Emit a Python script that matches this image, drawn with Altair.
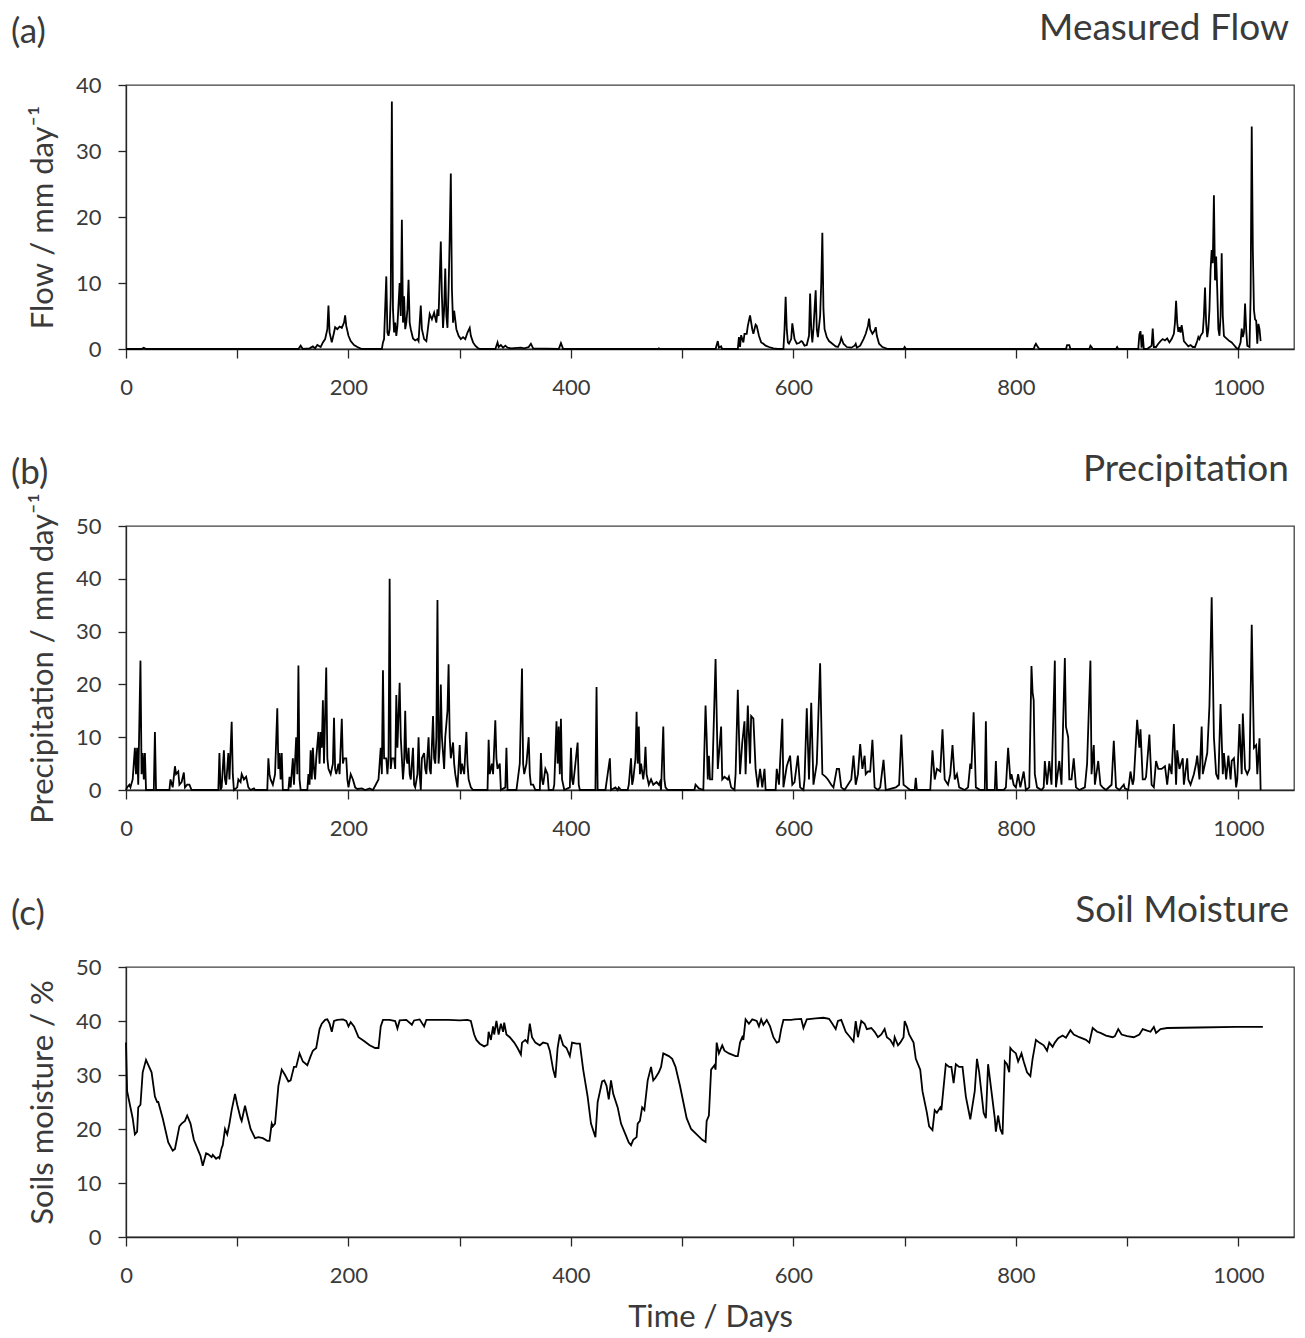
import altair as alt
import pandas as pd

# ---------------- data (day, value) ----------------
flow_points = [
    (0, 0), (14, 0), (16, 0.2), (18, 0), (150, 0), (155, 0), (157, 0.5), (159, 0), (165, 0.1), (168, 0.4),
    (170, 0.1), (172, 0.6), (175, 0.3), (177, 1.0), (179, 1.5), (181, 3), (182, 6.6), (183, 2.5), (185, 1),
    (187, 2.5), (188, 3.3), (190, 3.0), (192, 3.4), (194, 3.2), (196, 4), (197, 5.1), (198, 3.5), (200, 2),
    (202, 1.2), (205, 0.6), (208, 0.3), (212, 0), (230, 0), (231, 1), (232, 1.5), (234, 11), (235, 2.5),
    (236, 2), (237, 3), (238, 8), (239, 37.5), (240, 6), (241, 2.5), (242, 4), (243, 2), (244, 3.5), (246, 10),
    (247, 5), (248, 19.6), (249, 4), (250, 8), (251, 3), (252, 4), (253, 6), (254, 10.5), (255, 4), (256, 3),
    (258, 1.6), (260, 1.3), (262, 1.5), (263, 1.2), (265, 6.6), (266, 3), (268, 1.5), (270, 1.2), (271, 2.5),
    (273, 5.3), (275, 4.5), (277, 5.5), (279, 4), (280, 6), (281, 5), (283, 16.3), (284, 8), (285, 3.2),
    (286, 6), (287, 12.2), (288, 5), (289, 3.2), (290, 9), (291, 17), (292, 26.6), (293, 9), (294, 4),
    (295, 5.8), (297, 3), (299, 2), (301, 1.5), (303, 1.8), (305, 1.5), (307, 2.5), (309, 3.2), (310, 2),
    (312, 1), (314, 0.5), (316, 0.2), (318, 0), (332, 0), (334, 1.0), (335, 0.3), (337, 0.6), (339, 0.2),
    (341, 0.5), (343, 0.2), (346, 0.1), (355, 0.2), (358, 0.1), (362, 0.3), (364, 0.8), (366, 0.1), (389, 0),
    (391, 0.9), (393, 0), (478, 0), (479, 0.1), (480, 0), (530, 0), (532, 1.2), (533, 0.2), (535, 0.4),
    (536, 0), (550, 0), (551, 1.8), (552, 0.3), (553, 2.1), (555, 1), (556, 2.3), (558, 2.3), (559, 3.5),
    (561, 5.1), (563, 3), (564, 2.3), (566, 3.7), (567, 3.5), (569, 2), (571, 1), (573, 0.8), (575, 0.5),
    (578, 0.3), (582, 0.1), (586, 0), (591, 0), (592, 3), (593, 7.9), (594, 3), (595, 1), (596, 0.8),
    (598, 1.5), (599, 3.9), (601, 1.5), (603, 0.8), (605, 0.9), (607, 1.2), (608, 1.1), (610, 0.5),
    (612, 0.6), (614, 2), (615, 8.4), (616, 3), (617, 1), (618, 3), (619, 6), (620, 8.9), (621, 3),
    (622, 1.8), (624, 5), (625, 10), (626, 17.6), (627, 6), (628, 3), (630, 1.8), (632, 1.2), (635, 0.8),
    (638, 0.4), (640, 0.3), (642, 1.0), (643, 1.7), (645, 0.8), (648, 0.3), (652, 0.2), (655, 0.5),
    (656, 0.8), (657, 0.2), (660, 0.5), (663, 1.5), (665, 2.3), (667, 3.5), (668, 4.6), (669, 3), (671, 2.3),
    (673, 2.8), (674, 3.3), (675, 2), (677, 0.8), (680, 0.3), (685, 0), (699, 0), (700, 0.3), (701, 0),
    (816, 0), (817, 0.5), (818, 0.8), (819, 0.5), (821, 0), (845, 0), (846, 0.6), (848, 0.6), (849, 0),
    (866, 0), (867, 0.5), (868, 0.3), (869, 0), (890, 0), (891, 0.3), (892, 0), (910, 0), (911, 2.2),
    (912, 2.7), (913, 0.2), (914, 2.2), (915, 0), (918, 0), (922, 0.5), (923, 3.1), (924, 0.3), (926, 0.3),
    (928, 0.8), (930, 1.2), (932, 1.5), (934, 1.3), (936, 1.6), (938, 1.0), (940, 1.5), (942, 2.3), (943, 4),
    (944, 7.3), (945, 4), (946, 2.6), (947, 3.3), (948, 2.5), (949, 3.6), (950, 2.5), (951, 1.2), (953, 0.8),
    (955, 0.4), (957, 0.6), (959, 0.3), (961, 0.3), (963, 1.2), (964, 1.8), (965, 1.5), (966, 2), (968, 2.5),
    (969, 5), (970, 9.3), (971, 4), (972, 1.8), (973, 3), (974, 6), (975, 12), (976, 15), (977, 13),
    (978, 23.3), (979, 10.4), (980, 14), (981, 9), (982, 3), (983, 2), (984, 5), (985, 14.5), (986, 5),
    (987, 2), (988, 1.8), (990, 1.5), (992, 1.2), (994, 1), (996, 0.6), (998, 0.2), (1000, 0), (1002, 1.0),
    (1003, 3.1), (1004, 1.8), (1005, 2.5), (1006, 6.9), (1007, 3), (1008, 0.5), (1010, 0.3), (1011, 8),
    (1012, 33.7), (1013, 15), (1014, 5.9), (1015, 4.5), (1016, 4.3), (1017, 0.8), (1018, 3.8), (1019, 3),
    (1020, 1.2),
]

precip_points = [
    (0, 0), (1, 0.5), (3, 1), (4, 0.5), (6, 2), (8, 8), (9, 3), (10, 8), (11, 1), (13, 24.5), (14, 3),
    (15, 7), (16, 2), (17, 7), (18, 0), (25, 0), (26, 11), (27, 0), (39, 0), (40, 2), (42, 0.5), (44, 4.5),
    (45, 3), (47, 3.5), (48, 1), (50, 1.5), (52, 3.3), (53, 0.5), (55, 1), (57, 1), (59, 0),
    (83, 0), (84, 7), (85, 0), (86, 0.5), (88, 7.5), (89, 2), (90, 1), (92, 7), (93, 2), (95, 12.9), (96, 3),
    (97, 0), (100, 0.5), (101, 2), (103, 1.5), (104, 3), (106, 2), (108, 2.5), (110, 0.5), (112, 0),
    (115, 0.3), (116, 0), (127, 0), (128, 6), (129, 3), (130, 2), (132, 1), (134, 3), (136, 15.5), (137, 4),
    (138, 7), (139, 2), (140, 7), (141, 0), (146, 0), (147, 2.5), (148, 0.5), (150, 6), (151, 1), (153, 10),
    (154, 3), (155, 23.6), (156, 2), (157, 0), (163, 0), (164, 3), (165, 1), (166, 7.5), (167, 2), (168, 8),
    (169, 4), (170, 2), (171, 6), (173, 11), (174, 5), (175, 11), (176, 8), (177, 17), (178, 5), (180, 23.2),
    (181, 6), (182, 4), (184, 3), (186, 5), (187, 13.7), (188, 4), (189, 3), (191, 5), (192, 3), (194, 13.5),
    (195, 5), (196, 6), (198, 6), (199, 2), (200, 0.5), (202, 3), (204, 2), (206, 0.5), (208, 0.2), (212, 0.3),
    (215, 0), (219, 0.3), (222, 0), (227, 2), (229, 8), (230, 3), (231, 22.7), (232, 6), (234, 6), (235, 3),
    (236, 6), (237, 40), (238, 4), (239, 6), (241, 6), (242, 4), (243, 18), (244, 8), (246, 20.3), (247, 10),
    (249, 2), (250, 5), (251, 15), (252, 6), (253, 5), (254, 8), (255, 3), (256, 2), (258, 8), (259, 1),
    (260, 0.5), (262, 3), (263, 10), (264, 3), (265, 0), (266, 6), (268, 7), (269, 4), (270, 3), (272, 10),
    (273, 4), (274, 3), (276, 14), (277, 6), (278, 5), (279, 10), (280, 36), (281, 5), (282, 8), (283, 20),
    (284, 10), (285, 7), (286, 4), (287, 10), (289, 15), (290, 23.8), (291, 10), (292, 6), (294, 9), (295, 5),
    (296, 3), (298, 0.5), (300, 8.5), (301, 3), (302, 5), (304, 3), (306, 11), (307, 5), (308, 2), (310, 0.5),
    (312, 0), (325, 0), (326, 9.5), (327, 3), (329, 5), (330, 3), (332, 13.2), (333, 6), (334, 4), (336, 5),
    (337, 0), (341, 0.5), (342, 8), (343, 0), (351, 0), (354, 5), (356, 23), (357, 5), (358, 3), (360, 5),
    (362, 10), (363, 3), (364, 1), (366, 1), (368, 0), (372, 0), (373, 7), (374, 2), (375, 1), (377, 4),
    (379, 3), (380, 0), (384, 0), (385, 1), (387, 13), (388, 5), (389, 12), (390, 3), (391, 13.5), (392, 2),
    (394, 0), (399, 0.5), (400, 8), (401, 2), (402, 1), (404, 5), (406, 9), (407, 1), (408, 0), (422, 0),
    (423, 19.5), (424, 0), (431, 0), (433, 3), (435, 6), (436, 0), (440, 0.5), (442, 0), (443, 0.5), (445, 0),
    (451, 0), (452, 1), (454, 6), (455, 1), (456, 2), (458, 6), (459, 14.8), (460, 5), (461, 12), (462, 3),
    (463, 5), (465, 2), (466, 4), (467, 8.2), (468, 3), (470, 1), (472, 2), (474, 1), (477, 1.5), (479, 1),
    (480, 1.5), (481, 0), (483, 12), (484, 2), (485, 0.5), (487, 0), (511, 0), (512, 1), (515, 0.3), (519, 0),
    (521, 16), (522, 10), (523, 2), (524, 6.5), (525, 2), (527, 2), (530, 24.8), (532, 4), (535, 12), (536, 2),
    (538, 2.5), (541, 2), (542, 2.5), (544, 0.5), (547, 0), (548, 3), (550, 19), (552, 3), (554, 9), (556, 13),
    (557, 3), (559, 16), (561, 5), (562, 14), (564, 13.5), (566, 4), (568, 0.5), (570, 4), (572, 0.5),
    (574, 4), (575, 0), (584, 0), (585, 4), (587, 1), (590, 13.5), (591, 0.5), (594, 4.5), (597, 6.5),
    (599, 1), (601, 1.5), (604, 6.5), (606, 0.5), (609, 0), (610, 2), (612, 15.5), (614, 2), (616, 16.5),
    (618, 1), (621, 5), (624, 24), (626, 3), (629, 2.5), (631, 2), (634, 1), (636, 0.5), (639, 4), (641, 4),
    (643, 0.5), (646, 0), (652, 2), (654, 6.5), (656, 1), (658, 3), (660, 8.7), (662, 4), (664, 6.5), (665, 3),
    (667, 3.5), (669, 3.5), (671, 9.5), (673, 0.5), (676, 0), (678, 0.5), (681, 5.7), (683, 0), (692, 0.5),
    (695, 1), (697, 10.5), (699, 1), (702, 0.5), (705, 0), (709, 0), (710, 2.3), (711, 0), (723, 0),
    (725, 7.5), (727, 2), (729, 4), (732, 3.5), (734, 11.5), (736, 2), (739, 1), (741, 3), (743, 8.5),
    (745, 2), (747, 3), (749, 0.5), (754, 0), (757, 0.5), (759, 5), (760, 4), (762, 14.7), (764, 0.5),
    (768, 0), (772, 0), (773, 13), (774, 0), (781, 0), (782, 5.5), (783, 0), (789, 0), (791, 0.5), (793, 8),
    (795, 2), (796, 3), (798, 1), (800, 0.5), (802, 3), (804, 0.5), (807, 3.5), (809, 0), (812, 0.5),
    (814, 23.5), (815, 18.5), (816, 17), (817, 3), (819, 0.5), (823, 0), (825, 0.5), (826, 5.5), (828, 1),
    (830, 5.5), (832, 1), (835, 24.5), (836, 0.5), (839, 5.5), (841, 1), (844, 25), (845, 12), (847, 10),
    (848, 2), (850, 2), (852, 6), (854, 0.5), (857, 0), (862, 0.5), (864, 5), (867, 24.5), (868, 3),
    (870, 8.5), (871, 1), (874, 5.5), (876, 1), (878, 0.5), (881, 0), (886, 1), (888, 9.3), (890, 0.5),
    (893, 0), (897, 1), (898, 0.3), (901, 0), (903, 3.5), (905, 1), (906, 2), (909, 13.3), (911, 8),
    (912, 11.5), (914, 2), (916, 2), (917, 2.5), (920, 10.5), (922, 1), (924, 0.5), (926, 5.5), (928, 4),
    (930, 4), (931, 4), (934, 4.5), (936, 1), (938, 5), (940, 3), (942, 12.5), (944, 1), (945, 7.5), (947, 4),
    (950, 6), (951, 1), (954, 6), (955, 2), (957, 1), (960, 3), (962, 5), (963, 6.5), (965, 2), (967, 12),
    (968, 3), (970, 5), (972, 7), (974, 16), (976, 36.5), (978, 10), (980, 3), (982, 2), (984, 16.3),
    (986, 3), (987, 7), (989, 2), (991, 6.5), (993, 2), (994, 5.5), (996, 6), (998, 0.5), (999, 2),
    (1001, 12.5), (1003, 3), (1004, 14.5), (1006, 4), (1008, 3), (1010, 4), (1012, 31.3), (1014, 8),
    (1016, 8.5), (1017, 3), (1019, 9.8), (1020, 0),
]

soil_points = [
    (0, 36), (1, 27), (3, 25), (6, 22), (8, 19), (10, 19.5), (11, 24), (13, 24.5), (15, 30.5), (18, 32.8),
    (23, 30.5), (26, 26), (28, 25), (29, 25), (33, 22), (38, 17.5), (42, 16), (44, 16.3), (48, 20.5),
    (50, 21), (53, 21.5), (55, 22.5), (58, 21), (61, 18), (65, 16), (67, 15), (69, 13.2), (72, 15.5),
    (74, 15.3), (77, 14.8), (78, 15.2), (81, 14.5), (83, 14.8), (84, 14.6), (86, 16.5), (87, 17), (89, 20),
    (91, 19), (93, 21), (95, 23.5), (98, 26.5), (100, 24.5), (103, 22), (104, 21.5), (107, 24.3), (109, 22.5),
    (112, 20), (116, 18.3), (119, 18.5), (123, 18.3), (127, 17.8), (129, 17.8), (131, 21), (132, 20.5),
    (134, 21), (137, 28), (140, 31), (143, 30), (146, 28.8), (148, 29), (151, 31.5), (153, 31.5), (156, 34),
    (159, 32.5), (163, 31.8), (166, 33.5), (168, 34.5), (171, 35), (174, 38.5), (176, 39.5), (179, 40.2),
    (181, 40.3), (183, 39.5), (185, 38), (187, 40), (190, 40.2), (195, 40.3), (198, 40), (200, 39),
    (202, 39.8), (205, 39), (209, 37), (214, 36.3), (219, 35.5), (224, 35), (227, 35), (229, 39),
    (231, 40.2), (237, 40.2), (242, 40), (244, 38.6), (246, 40.1), (252, 40.2), (257, 39.3), (259, 40.1),
    (264, 40.3), (268, 39), (270, 40.2), (280, 40.2), (290, 40.2), (300, 40.1), (307, 40.2), (310, 40),
    (313, 37.5), (315, 36.5), (318, 35.8), (322, 35.3), (325, 35.6), (326, 38), (328, 36.5), (330, 39),
    (331, 37.5), (333, 40), (335, 37.5), (337, 39.5), (339, 38), (340, 39.7), (342, 37.5), (345, 37),
    (349, 36), (352, 35), (355, 33.8), (356, 36), (359, 36.5), (361, 36), (363, 39.5), (365, 37), (368, 36),
    (372, 35.5), (375, 36), (379, 35.8), (381, 34.5), (384, 31), (386, 29.5), (388, 35), (390, 37.5),
    (393, 35.5), (396, 35), (399, 33.5), (401, 36), (405, 35.8), (408, 35.8), (411, 31), (415, 26),
    (418, 21), (422, 18.5), (424, 25), (428, 28.8), (430, 29), (432, 28), (434, 25.5), (436, 29),
    (438, 26.5), (442, 24), (445, 21), (449, 19), (452, 17.5), (454, 17), (456, 18), (459, 18.5), (460, 21),
    (462, 21.5), (464, 24), (466, 23.5), (469, 29), (472, 31.5), (474, 29), (476, 29.5), (479, 30.5),
    (481, 31.5), (483, 34), (488, 33.5), (491, 33), (494, 31.5), (498, 28), (501, 25), (504, 22), (508, 20),
    (513, 19), (518, 18), (521, 17.6), (522, 21.5), (524, 22.5), (526, 31), (529, 31.8), (530, 31),
    (531, 36), (533, 34), (536, 35.5), (538, 34.5), (542, 34), (548, 33.5), (550, 33.5), (552, 36),
    (554, 37), (555, 36.5), (557, 40.3), (560, 39.5), (563, 40.3), (567, 40), (569, 39), (571, 40.3),
    (573, 39.3), (576, 40.2), (579, 39), (582, 37), (585, 36), (587, 36.2), (589, 38.5), (591, 40.2),
    (598, 40.2), (601, 40.3), (607, 40.4), (609, 38.7), (612, 40.3), (620, 40.5), (627, 40.6), (632, 40.4),
    (635, 39.5), (638, 38.5), (640, 40), (643, 40.2), (647, 38), (651, 37), (654, 36.2), (656, 40),
    (658, 37), (661, 40), (664, 39.5), (666, 38.5), (670, 38.7), (673, 38), (676, 37), (679, 37.5),
    (682, 38.5), (684, 37), (687, 36.5), (690, 35.5), (691, 37), (694, 35.5), (696, 36), (699, 37),
    (700, 40), (702, 39), (704, 37.5), (708, 36), (710, 33), (714, 31), (716, 27), (720, 23), (722, 20.5),
    (725, 19.8), (727, 23.5), (729, 23), (732, 24), (733, 23.5), (737, 32), (740, 31.5), (742, 31.5),
    (744, 28.5), (746, 32), (749, 31.5), (752, 31.5), (755, 26), (759, 21.8), (763, 27), (765, 33),
    (767, 30.5), (771, 23), (773, 22), (775, 32), (778, 27), (781, 22), (782, 19.5), (784, 22.5), (786, 20),
    (788, 19), (790, 32.5), (792, 32), (794, 30.5), (795, 35), (797, 34.5), (800, 34), (802, 32.5), (805, 34),
    (807, 32.5), (810, 30.5), (813, 29.8), (815, 33), (818, 36.5), (821, 36), (825, 35.5), (828, 34.5),
    (830, 36), (833, 35.2), (835, 36), (838, 36.8), (842, 37.3), (845, 36.9), (849, 38.3), (852, 37.5),
    (857, 37), (863, 36.5), (866, 36), (869, 38.7), (873, 38), (876, 37.8), (881, 37.3), (887, 37),
    (889, 37.2), (892, 38.5), (895, 37.5), (900, 37.2), (906, 37), (911, 37.5), (914, 38.5), (918, 38.2),
    (921, 38), (924, 38.9), (926, 37.8), (930, 38.5), (936, 38.7), (964, 38.8), (998, 38.9), (1022, 38.9),
]

panel_letters = ["(a)", "(b)", "(c)"]
panel_names = ["Measured Flow", "Precipitation", "Soil Moisture"]
y_titles = ["Flow / mm day\u207b\u00b9", "Precipitation / mm day\u207b\u00b9", "Soils moisture / %"]
y_max = [40, 50, 50]
x_title = "Time / Days"

FONT = "Lato"
TXT = "#3a3a3a"
PLOT_W = 1168


def panel(points, ymax, ytitle, letter, name, height, xtitle=None):
    df = pd.DataFrame(points, columns=["day", "v"])
    xaxis_kw = dict(
        values=list(range(0, 1001, 100)),
        labelExpr="datum.value % 200 === 0 ? datum.label : ''",
        format="d",
        labelFlush=False,
        tickSize=9,
        labelPadding=19,
        grid=False,
    )
    if xtitle:
        xaxis_kw.update(title=xtitle, titlePadding=16)
    else:
        xaxis_kw.update(title="")
    line = alt.Chart(df).mark_line(color="black", strokeWidth=1.8).encode(
        x=alt.X("day:Q", scale=alt.Scale(domain=[0, 1050], nice=False), axis=alt.Axis(**xaxis_kw)),
        y=alt.Y(
            "v:Q",
            scale=alt.Scale(domain=[0, ymax], nice=False),
            axis=alt.Axis(
                values=list(range(0, ymax + 1, 10)),
                tickSize=8,
                labelPadding=17,
                labelFlush=False,
                grid=False,
                title=ytitle,
                titlePadding=16,
            ),
        ),
    )
    lab = alt.Chart(pd.DataFrame({"t": [letter]})).mark_text(
        align="left", baseline="middle", fontSize=35, font=FONT, color=TXT
    ).encode(x=alt.value(-115), y=alt.value(-53), text="t:N")
    ttl = alt.Chart(pd.DataFrame({"t": [name]})).mark_text(
        align="right", baseline="middle", fontSize=37, font=FONT, color=TXT
    ).encode(x=alt.value(PLOT_W - 5), y=alt.value(-56), text="t:N")
    return alt.layer(line, lab, ttl).properties(width=PLOT_W, height=height)


pa = panel(flow_points, y_max[0], y_titles[0], panel_letters[0], panel_names[0], 264)
pb = panel(precip_points, y_max[1], y_titles[1], panel_letters[1], panel_names[1], 264)
pc = panel(soil_points, y_max[2], y_titles[2], panel_letters[2], panel_names[2], 270, xtitle=x_title)

chart = (
    alt.vconcat(pa, pb, pc, spacing=51)
    .properties(padding={"top": 9, "left": 10, "right": 5, "bottom": 0}, background="white")
    .configure(font=FONT)
    .configure_axis(
        labelFont=FONT,
        labelFontSize=22,
        labelColor=TXT,
        titleFont=FONT,
        titleFontSize=31,
        titleFontWeight="normal",
        titleColor=TXT,
        domainColor="#262626",
        tickColor="#262626",
        domainWidth=1.3,
        tickWidth=1.3,
    )
    .configure_view(stroke="#404040", strokeWidth=1.3)
)

chart.save("out.html", embed_options={"renderer": "svg", "actions": False})
